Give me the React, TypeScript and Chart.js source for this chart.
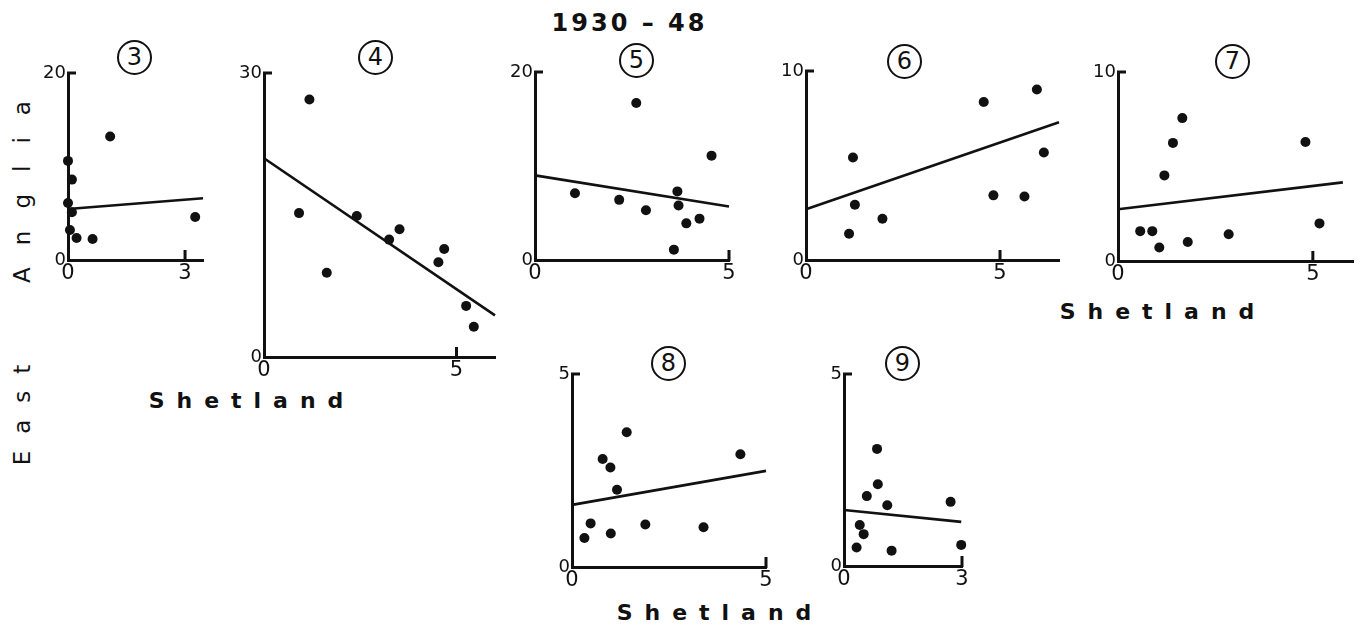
import React, { useEffect, useRef } from "react";
import { Chart, registerables } from "chart.js";

Chart.register(...registerables);

// Shetland (x) against Anglia / East (y), one small scatter per area, 1930-48.
// Each panel: observed points plus the fitted straight line (values at its two ends).

// Panel 3
const p3X = [1.08, 0, 0.1, 0, 0.1, 0.05, 0.22, 0.63, 3.26];
const p3Y = [13.2, 10.6, 8.6, 6.1, 5.1, 3.2, 2.35, 2.25, 4.6];
const p3FitX = [0, 3.46];
const p3FitY = [5.45, 6.6];

// Panel 4
const p4X = [1.18, 0.91, 1.63, 2.41, 3.25, 3.52, 4.53, 4.68, 5.25, 5.45];
const p4Y = [27.2, 15.2, 8.9, 14.9, 12.4, 13.5, 10.0, 11.4, 5.4, 3.2];
const p4FitX = [0, 6.0];
const p4FitY = [21.0, 4.4];

// Panel 5
const p5X = [2.61, 4.55, 1.03, 2.17, 2.86, 3.67, 3.7, 4.24, 3.9, 3.58];
const p5Y = [16.7, 11.1, 7.1, 6.4, 5.3, 7.3, 5.8, 4.4, 3.9, 1.1];
const p5FitX = [0, 5.0];
const p5FitY = [9.0, 5.7];

// Panel 6
const p6X = [3.41, 5.95, 4.58, 1.21, 6.13, 1.26, 4.83, 5.63, 1.97, 1.11];
const p6Y = [10.44, 9.02, 8.36, 5.42, 5.69, 2.92, 3.42, 3.36, 2.18, 1.39];
const p6FitX = [0, 6.52];
const p6FitY = [2.69, 7.29];

// Panel 7
const p7X = [1.65, 1.41, 4.81, 1.19, 0.57, 0.88, 1.06, 1.79, 2.84, 5.17];
const p7Y = [7.56, 6.25, 6.3, 4.53, 1.58, 1.58, 0.71, 1.01, 1.42, 1.99];
const p7FitX = [0, 5.77];
const p7FitY = [2.74, 4.16];

// Panel 8
const p8X = [1.41, 4.34, 0.79, 0.99, 1.16, 0.48, 0.32, 1.0, 1.89, 3.39];
const p8Y = [3.49, 2.92, 2.8, 2.58, 2.0, 1.13, 0.75, 0.87, 1.1, 1.03];
const p8FitX = [0, 5.0];
const p8FitY = [1.61, 2.49];

// Panel 9
const p9X = [0.84, 0.86, 0.58, 1.1, 2.71, 0.4, 0.5, 0.32, 1.21, 2.98];
const p9Y = [3.05, 2.13, 1.82, 1.58, 1.67, 1.07, 0.83, 0.48, 0.4, 0.55];
const p9FitX = [0, 2.98];
const p9FitY = [1.46, 1.15];

// Axis ranges and labelled ticks
const xMaxes = [3.46, 6.0, 5.0, 6.52, 6.03, 5.0, 3.0];
const xTickLabels = [3, 5, 5, 5, 5, 5, 3];
const yMaxes = [20, 30, 20, 10, 10, 5, 5];
const panelNames = ["3", "4", "5", "6", "7", "8", "9"];

const title = "1930 – 48";
const xAxisName = "Shetland";
const yAxisNames = ["Anglia", "East"];

const allX = [p3X, p4X, p5X, p6X, p7X, p8X, p9X];
const allY = [p3Y, p4Y, p5Y, p6Y, p7Y, p8Y, p9Y];
const allFitX = [p3FitX, p4FitX, p5FitX, p6FitX, p7FitX, p8FitX, p9FitX];
const allFitY = [p3FitY, p4FitY, p5FitY, p6FitY, p7FitY, p8FitY, p9FitY];

// Page placement of each plot's axes: [left, top, right, bottom] in px
const frames: number[][] = [
  [68, 73, 203, 260],
  [264, 73, 495, 357],
  [535, 72, 729, 260],
  [806, 71, 1059, 260],
  [1118, 72, 1353, 261],
  [572, 374, 766, 567],
  [844, 374, 962, 566],
];

// Circled panel numbers (centres)
const badgeCentres: number[][] = [
  [135, 58],
  [376, 58],
  [637, 61],
  [905, 62],
  [1233, 62],
  [669, 364],
  [903, 364],
];

const INK = "#111";
const FONT = "'DejaVu Sans', sans-serif";
const Y_AXIS_W = 44;
const X_AXIS_H = 30;
const PAD_TOP = 22;
const PAD_RIGHT = 14;

// Short inward ticks: at the top of the y axis and at the labelled x value
const inwardTicks = {
  id: "inwardTicks",
  afterDraw(chart: any) {
    const { ctx, chartArea, scales } = chart;
    const xt = chart.options.plugins.inwardTicks.xTick;
    const ymax = scales.y.max;
    ctx.save();
    ctx.strokeStyle = INK;
    ctx.lineWidth = 3;
    ctx.lineCap = "butt";
    const yTop = scales.y.getPixelForValue(ymax);
    ctx.beginPath();
    ctx.moveTo(chartArea.left - 1, yTop);
    ctx.lineTo(chartArea.left + 8, yTop);
    const xp = scales.x.getPixelForValue(xt);
    ctx.moveTo(xp, chartArea.bottom + 1);
    ctx.lineTo(xp, chartArea.bottom - 10);
    ctx.stroke();
    ctx.restore();
  },
};

function Panel({ i }: { i: number }) {
  const ref = useRef<HTMLCanvasElement | null>(null);
  useEffect(() => {
    if (!ref.current) return;
    const xs = allX[i];
    const ys = allY[i];
    const pts = xs.map((x, k) => ({ x, y: ys[k] }));
    const fit = allFitX[i].map((x, k) => ({ x, y: allFitY[i][k] }));
    const xMax = xMaxes[i];
    const yMax = yMaxes[i];
    const xTick = xTickLabels[i];
    const chart = new Chart(ref.current, {
      type: "scatter",
      data: {
        datasets: [
          {
            type: "line",
            data: fit,
            borderColor: INK,
            borderWidth: 2.6,
            pointRadius: 0,
            fill: false,
            clip: false,
          } as any,
          {
            type: "scatter",
            data: pts,
            backgroundColor: INK,
            borderWidth: 0,
            pointRadius: 5,
            clip: false,
          } as any,
        ],
      },
      options: {
        animation: false,
        responsive: true,
        maintainAspectRatio: false,
        layout: { padding: { top: PAD_TOP, right: PAD_RIGHT, left: 0, bottom: 0 } },
        plugins: {
          legend: { display: false },
          tooltip: { enabled: false },
          inwardTicks: { xTick },
        } as any,
        scales: {
          x: {
            type: "linear",
            min: 0,
            max: xMax,
            afterBuildTicks: (s: any) => {
              s.ticks = [{ value: 0 }, { value: xTick }];
            },
            afterFit: (s: any) => {
              s.height = X_AXIS_H;
            },
            grid: { display: false, drawTicks: false },
            border: { display: true, color: INK, width: 3 },
            ticks: {
              color: INK,
              font: { family: FONT, size: 21 },
              padding: 1,
              maxRotation: 0,
              autoSkip: false,
              callback: (v: any) => String(v),
            },
          },
          y: {
            type: "linear",
            min: 0,
            max: yMax,
            afterBuildTicks: (s: any) => {
              s.ticks = [{ value: 0 }, { value: yMax }];
            },
            afterFit: (s: any) => {
              s.width = Y_AXIS_W;
            },
            grid: { display: false, drawTicks: false },
            border: { display: true, color: INK, width: 3 },
            ticks: {
              color: INK,
              font: { family: FONT, size: 18 },
              padding: 2,
              autoSkip: false,
              callback: (v: any) => String(v),
            },
          },
        },
      },
      plugins: [inwardTicks],
    });
    return () => chart.destroy();
  }, [i]);

  const [l, t, r, b] = frames[i];
  const style: React.CSSProperties = {
    position: "absolute",
    left: l - Y_AXIS_W,
    top: t - PAD_TOP,
    width: r - l + Y_AXIS_W + PAD_RIGHT,
    height: b - t + PAD_TOP + X_AXIS_H,
  };
  return (
    <div style={style}>
      <canvas ref={ref} />
    </div>
  );
}

function Badge({ i }: { i: number }) {
  const [cx, cy] = badgeCentres[i];
  const d = 36;
  return (
    <div
      style={{
        position: "absolute",
        left: cx - d / 2,
        top: cy - d / 2,
        width: d - 5,
        height: d - 5,
        border: `2.5px solid ${INK}`,
        borderRadius: "50%",
        color: INK,
        fontFamily: FONT,
        fontSize: 24,
        lineHeight: `${d - 5}px`,
        textAlign: "center",
      }}
    >
      {panelNames[i]}
    </div>
  );
}

type CaptionProps = { text: string; cx: number; cy: number; spacing: number; size: number; bold?: boolean; vertical?: boolean };

function Caption(props: CaptionProps) {
  const { text, cx, cy, spacing, size, bold, vertical } = props;
  const w = 300;
  const h = 32;
  const box: React.CSSProperties = {
    position: "absolute",
    left: cx - w / 2,
    top: cy - h / 2,
    width: w,
    height: h,
    transform: vertical ? "rotate(-90deg)" : "none",
    transformOrigin: "50% 50%",
  };
  const inner: React.CSSProperties = {
    width: "100%",
    height: "100%",
    lineHeight: `${h}px`,
    textAlign: "center",
    fontFamily: FONT,
    fontWeight: bold ? "bold" : "normal",
    fontSize: size,
    letterSpacing: spacing,
    paddingLeft: spacing,
    boxSizing: "border-box",
    color: INK,
    whiteSpace: "nowrap",
  };
  return (
    <div style={box}>
      <div style={inner}>{text}</div>
    </div>
  );
}

export default function App() {
  return (
    <div
      style={{
        position: "fixed",
        left: 0,
        top: 0,
        width: 1370,
        height: 633,
        background: "#fff",
      }}
    >
      <Caption text={title} cx={628} cy={23} spacing={3} size={24} bold />
      <Caption text={yAxisNames[0]} cx={22} cy={192} spacing={22} size={23} vertical />
      <Caption text={yAxisNames[1]} cx={22} cy={415} spacing={17} size={23} vertical />
      <Caption text={xAxisName} cx={246} cy={401} spacing={12} size={22} bold />
      <Caption text={xAxisName} cx={1157} cy={312} spacing={12} size={22} bold />
      <Caption text={xAxisName} cx={714} cy={613} spacing={12} size={22} bold />
      {panelNames.map((_, i) => (
        <Badge key={"b" + i} i={i} />
      ))}
      {panelNames.map((_, i) => (
        <Panel key={"p" + i} i={i} />
      ))}
    </div>
  );
}
